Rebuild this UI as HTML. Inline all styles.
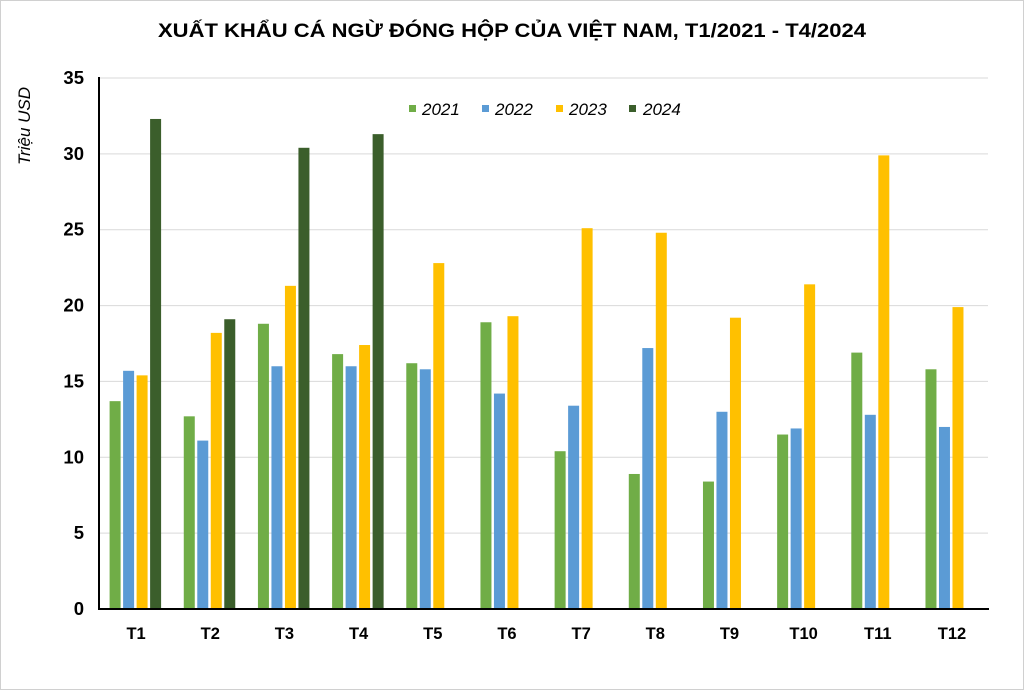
<!DOCTYPE html>
<html><head><meta charset="utf-8"><style>
html,body{margin:0;padding:0;background:#fff;}
svg{display:block;font-family:"Liberation Sans",Arial,sans-serif;}
</style></head><body>
<svg id="c" width="1024" height="690" viewBox="0 0 1024 690" xmlns="http://www.w3.org/2000/svg">
<rect x="0.5" y="0.5" width="1023" height="689" fill="#fff" stroke="#d0d0d0"/>
<text x="158" y="37" textLength="708" lengthAdjust="spacingAndGlyphs" font-size="19" font-weight="bold" fill="#000">XUẤT KHẨU CÁ NGỪ ĐÓNG HỘP CỦA VIỆT NAM, T1/2021 - T4/2024</text>
<text transform="translate(30,126) rotate(-90)" text-anchor="middle" font-size="17" font-style="italic" fill="#000">Triệu USD</text>
<g id="grid"></g>
<g id="bars"></g>
<line x1="99" y1="77" x2="99" y2="610" stroke="#000" stroke-width="2"/>
<line x1="98" y1="609" x2="989" y2="609" stroke="#000" stroke-width="2"/>
<g font-size="17" font-style="italic" fill="#000">
<rect x="409" y="105" width="7" height="7" fill="#70ad47"/><text x="422" y="115">2021</text>
<rect x="482" y="105" width="7" height="7" fill="#5b9bd5"/><text x="495" y="115">2022</text>
<rect x="556" y="105" width="7" height="7" fill="#ffc000"/><text x="569" y="115">2023</text>
<rect x="629" y="105" width="7" height="7" fill="#3b5e2b"/><text x="643" y="115">2024</text>
</g>
</svg>
<script>
var NS="http://www.w3.org/2000/svg";
function el(t,a,p,txt){var e=document.createElementNS(NS,t);for(var k in a)e.setAttribute(k,a[k]);if(txt!=null)e.textContent=txt;document.getElementById(p).appendChild(e);}
function Y(v){return 609-v*531/35;}
for(var v=0;v<=35;v+=5){var y=Y(v);if(v>0)el("line",{x1:99,x2:988,y1:y,y2:y,stroke:"#d9d9d9","stroke-width":1},"grid");
el("text",{x:84,y:y+6,"text-anchor":"end","font-size":18.5,"font-weight":"bold"},"grid",String(v));}
var d=[[13.7,15.7,15.4,32.3],[12.7,11.1,18.2,19.1],[18.8,16.0,21.3,30.4],[16.8,16.0,17.4,31.3],
[16.2,15.8,22.8],[18.9,14.2,19.3],[10.4,13.4,25.1],[8.9,17.2,24.8],[8.4,13.0,19.2],[11.5,11.9,21.4],[16.9,12.8,29.9],[15.8,12.0,19.9]];
var col=["#70ad47","#5b9bd5","#ffc000","#3b5e2b"];
for(var i=0;i<12;i++){var c=98+37.1+74.17*i;
for(var j=0;j<d[i].length;j++){var x=c-25.5+j*13.5;el("rect",{x:x,y:Y(d[i][j]),width:11,height:609-Y(d[i][j]),fill:col[j]},"bars");}
el("text",{x:c+1,y:639,"text-anchor":"middle","font-size":16.5,"font-weight":"bold"},"bars","T"+(i+1));}
</script>
</body></html>
